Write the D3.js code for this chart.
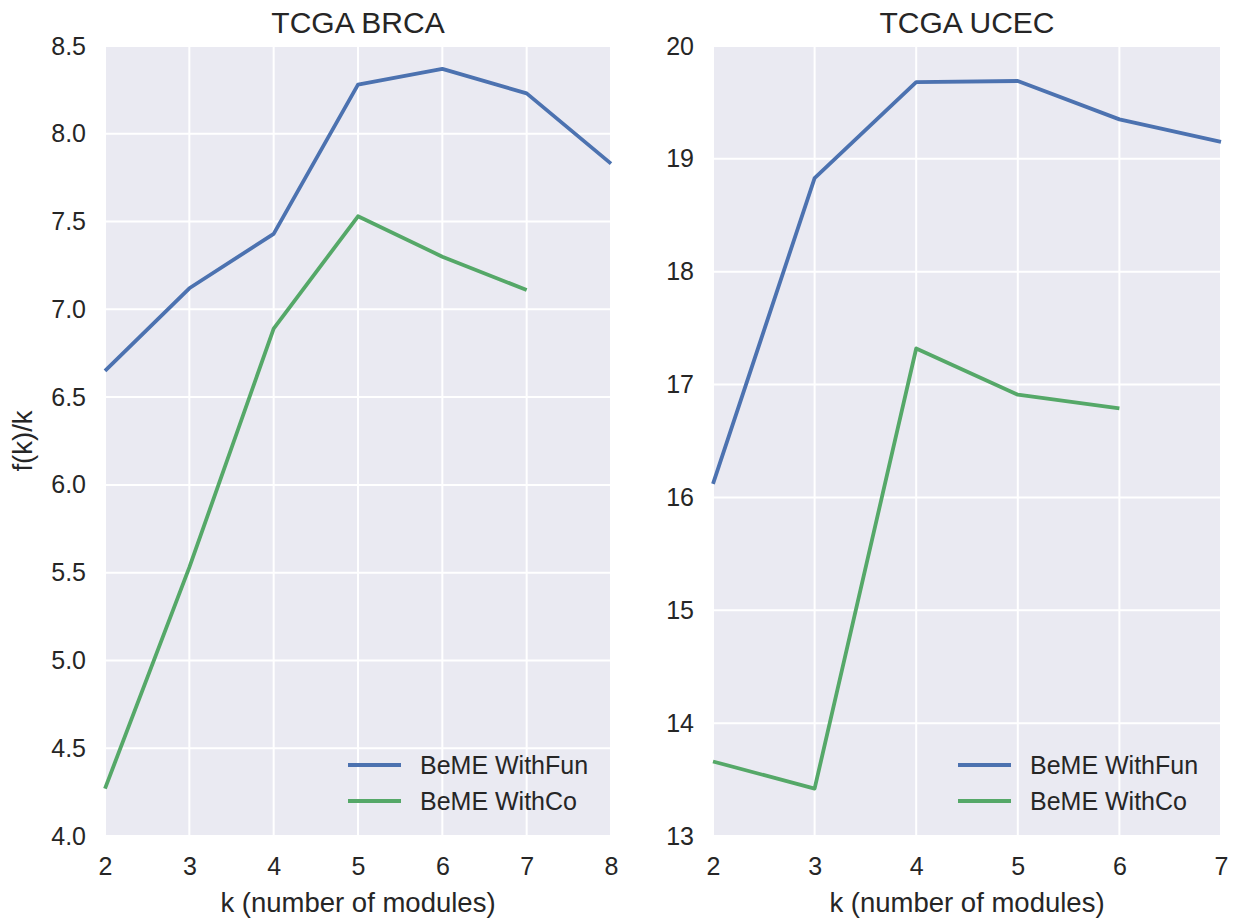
<!DOCTYPE html>
<html>
<head>
<meta charset="utf-8">
<script src="https://cdn.jsdelivr.net/npm/d3@7"></script>
<style>
  body { margin: 0; background: #fff; }
  text { font-family: "Liberation Sans", Arial, sans-serif; fill: #262626; }
</style>
</head>
<body>
<div id="vis"></div>
<script>
// values
const brcaK = [2, 3, 4, 5, 6, 7, 8];
const brcaWithFun = [6.65, 7.12, 7.43, 8.28, 8.37, 8.23, 7.83];
const brcaWithCo = [4.27, 5.53, 6.89, 7.53, 7.30, 7.11];
const brcaYTicks = [4.0, 4.5, 5.0, 5.5, 6.0, 6.5, 7.0, 7.5, 8.0, 8.5];

const ucecK = [2, 3, 4, 5, 6, 7];
const ucecWithFun = [16.12, 18.83, 19.68, 19.69, 19.35, 19.15];
const ucecWithCo = [13.66, 13.42, 17.32, 16.91, 16.79];
const ucecYTicks = [13, 14, 15, 16, 17, 18, 19, 20];

const seriesNames = ["BeME WithFun", "BeME WithCo"];
const seriesColours = ["#4C72B0", "#55A868"];

const width = 1234;
const height = 923;

const svg = d3
  .select("#vis")
  .append("svg")
  .attr("width", width)
  .attr("height", height);

// draw one seaborn-style panel
function panel(opts) {
  const x = d3.scaleLinear().domain(opts.xDomain).range([opts.left, opts.right]);
  const y = d3.scaleLinear().domain(opts.yDomain).range([opts.bottom, opts.top]);
  const g = svg.append("g");

  g.append("rect")
    .attr("x", opts.left)
    .attr("y", opts.top)
    .attr("width", opts.right - opts.left)
    .attr("height", opts.bottom - opts.top)
    .attr("fill", "#EAEAF2");

  // grid
  g.selectAll(".vgrid")
    .data(opts.xTicks)
    .enter()
    .append("line")
    .attr("x1", d => x(d))
    .attr("x2", d => x(d))
    .attr("y1", opts.top)
    .attr("y2", opts.bottom)
    .attr("stroke", "#fff")
    .attr("stroke-width", 2);

  g.selectAll(".hgrid")
    .data(opts.yTicks)
    .enter()
    .append("line")
    .attr("x1", opts.left)
    .attr("x2", opts.right)
    .attr("y1", d => y(d))
    .attr("y2", d => y(d))
    .attr("stroke", "#fff")
    .attr("stroke-width", 2);

  // axes, no domain line or tick marks
  const xAxis = g.append("g")
    .attr("transform", `translate(0,${opts.bottom})`)
    .call(d3.axisBottom(x).tickValues(opts.xTicks).tickFormat(d3.format("d")).tickSize(0).tickPadding(21));
  const yAxis = g.append("g")
    .attr("transform", `translate(${opts.left},0)`)
    .call(d3.axisLeft(y).tickValues(opts.yTicks).tickFormat(opts.yFormat).tickSize(0).tickPadding(19));
  [xAxis, yAxis].forEach(a => {
    a.select(".domain").remove();
    a.selectAll("text").attr("font-size", 25).attr("fill", "#262626").attr("font-family", null);
  });

  // lines
  const line = d3.line().x(d => x(d[0])).y(d => y(d[1]));
  opts.series.forEach((s, i) => {
    const pts = s.map((v, j) => [opts.k[j], v]);
    g.append("path")
      .datum(pts)
      .attr("d", line)
      .attr("fill", "none")
      .attr("stroke", seriesColours[i])
      .attr("stroke-width", 3.8)
      .attr("stroke-linejoin", "round");
  });

  // title and x label
  g.append("text")
    .attr("x", (opts.left + opts.right) / 2)
    .attr("y", opts.top - 13)
    .attr("text-anchor", "middle")
    .attr("font-size", 30)
    .text(opts.title);

  g.append("text")
    .attr("x", (opts.left + opts.right) / 2)
    .attr("y", 912)
    .attr("text-anchor", "middle")
    .attr("font-size", 27.5)
    .text("k (number of modules)");

  // legend, lower right
  const legend = g.append("g")
    .attr("transform", `translate(${opts.right - 263},765)`);
  seriesNames.forEach((name, i) => {
    legend.append("line")
      .attr("x1", 0)
      .attr("x2", 53)
      .attr("y1", i * 36)
      .attr("y2", i * 36)
      .attr("stroke", seriesColours[i])
      .attr("stroke-width", 3.8);
    legend.append("text")
      .attr("x", 72)
      .attr("y", i * 36 + 9)
      .attr("font-size", 25)
      .text(name);
  });
}

panel({
  title: "TCGA BRCA",
  left: 105, right: 611, top: 46, bottom: 836,
  xDomain: [2, 8], yDomain: [4.0, 8.5],
  xTicks: brcaK, yTicks: brcaYTicks, yFormat: d3.format(".1f"),
  k: brcaK, series: [brcaWithFun, brcaWithCo]
});

panel({
  title: "TCGA UCEC",
  left: 713, right: 1221, top: 46, bottom: 836,
  xDomain: [2, 7], yDomain: [13, 20],
  xTicks: ucecK, yTicks: ucecYTicks, yFormat: d3.format("d"),
  k: ucecK, series: [ucecWithFun, ucecWithCo]
});

// shared y label
svg.append("text")
  .attr("transform", "translate(32,441) rotate(-90)")
  .attr("text-anchor", "middle")
  .attr("font-size", 27.5)
  .text("f(k)/k");
</script>
</body>
</html>
